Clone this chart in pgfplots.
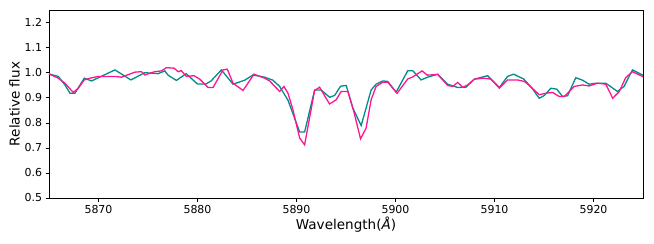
\documentclass[border=0pt]{standalone}
\usepackage{pgfplots}
\pgfplotsset{compat=1.18}
\usepackage{fontspec}
\setmainfont{DejaVu Sans}
\usetikzlibrary{calc}
\definecolor{tealc}{RGB}{0,140,140}
\definecolor{pinkc}{RGB}{255,20,147}
\begin{document}
\begin{tikzpicture}
\begin{axis}[
  scale only axis,
  width=594bp, height=188bp,
  xmin=5865, xmax=5925, ymin=0.5, ymax=1.25,
  xtick={5870,5880,5890,5900,5910,5920},
  ytick={0.5,0.6,0.7,0.8,0.9,1.0,1.1,1.2},
  yticklabel style={/pgf/number format/.cd,fixed,fixed zerofill,precision=1},
  xticklabel style={/pgf/number format/.cd,1000 sep={}},
  /pgf/number format/assume math mode=true,
  tick align=outside, tick pos=left,
  major tick length=3.5bp,
  every tick/.style={black, line width=0.6bp},
  axis line style={line width=0.6bp},
  ticklabel style={font=\fontsize{11}{13}\selectfont},
  label style={font=\fontsize{13.6}{15}\selectfont},
  xlabel={Wavelength({\itshape Å})},
  ylabel={Relative flux},
  xlabel style={yshift=3bp},
  ylabel style={yshift=-2bp},
]
\coordinate (ll) at (rel axis cs:0,0);
\coordinate (ur) at (rel axis cs:1,1);
\addplot[tealc, line width=1.3bp] coordinates {
(5865.00,0.995) (5865.94,0.985) (5866.61,0.951) (5867.12,0.918) (5867.62,0.918)
(5868.56,0.978) (5869.30,0.967) (5871.66,1.011) (5873.27,0.971) (5874.68,1.000)
(5876.02,0.996) (5876.70,1.007) (5877.03,0.990) (5877.87,0.969) (5878.85,0.996)
(5879.99,0.955) (5880.86,0.955) (5881.37,0.967) (5882.41,1.011) (5883.59,0.954)
(5884.77,0.970) (5885.61,0.991) (5886.78,0.982) (5887.62,0.970) (5888.30,0.945)
(5889.14,0.890) (5890.32,0.763) (5890.82,0.763) (5891.83,0.931) (5892.49,0.931)
(5893.34,0.902) (5893.85,0.909) (5894.45,0.946) (5895.02,0.949) (5895.69,0.859)
(5896.53,0.789) (5897.54,0.931) (5898.04,0.954) (5898.72,0.967) (5899.22,0.965)
(5900.06,0.922) (5901.24,1.008) (5901.74,1.008) (5902.58,0.971) (5903.25,0.982)
(5904.26,0.994) (5905.27,0.954) (5906.28,0.941) (5907.12,0.942) (5907.96,0.974)
(5909.30,0.988) (5910.49,0.941) (5911.32,0.985) (5911.93,0.994) (5912.94,0.975)
(5913.75,0.940) (5914.52,0.898) (5915.03,0.909) (5915.69,0.938) (5916.30,0.934)
(5916.87,0.905) (5917.38,0.908) (5918.21,0.980) (5918.89,0.970) (5919.56,0.954)
(5920.23,0.958) (5921.24,0.958) (5922.42,0.925) (5923.09,0.945) (5923.93,1.011)
(5924.94,0.991) (5925.00,0.990)
};
\addplot[pinkc, line width=1.3bp] coordinates {
(5865.00,0.995) (5865.94,0.978) (5866.61,0.958) (5867.45,0.921) (5867.96,0.938)
(5868.56,0.971) (5869.14,0.978) (5869.97,0.985) (5871.66,0.985) (5872.32,0.982)
(5873.67,1.002) (5874.34,1.004) (5874.68,0.991) (5875.69,1.004) (5876.36,1.007)
(5876.86,1.020) (5877.64,1.018) (5878.04,1.004) (5878.37,1.008) (5878.88,0.985)
(5879.65,0.988) (5880.23,0.974) (5881.07,0.941) (5881.57,0.941) (5882.58,1.011)
(5883.01,1.014) (5883.59,0.958) (5884.60,0.929) (5885.71,0.994) (5886.78,0.978)
(5887.29,0.967) (5888.30,0.925) (5888.73,0.945) (5889.14,0.918) (5889.64,0.852)
(5890.32,0.739) (5890.82,0.712) (5891.83,0.929) (5892.33,0.942) (5893.34,0.875)
(5894.01,0.892) (5894.51,0.925) (5895.19,0.925) (5895.79,0.845) (5896.47,0.736)
(5897.03,0.779) (5897.54,0.892) (5898.04,0.945) (5898.72,0.962) (5899.22,0.962)
(5900.16,0.918) (5901.24,0.975) (5901.74,0.983) (5902.68,1.007) (5903.22,0.990)
(5904.26,0.993) (5905.27,0.949) (5905.78,0.945) (5906.28,0.961) (5906.79,0.942)
(5907.29,0.951) (5907.96,0.974) (5908.97,0.978) (5909.64,0.974) (5910.49,0.938)
(5911.32,0.971) (5912.33,0.971) (5913.01,0.965) (5913.34,0.955) (5914.52,0.912)
(5915.19,0.918) (5915.87,0.921) (5916.54,0.905) (5917.04,0.905) (5918.05,0.945)
(5918.89,0.951) (5919.56,0.947) (5920.40,0.958) (5921.24,0.954) (5921.94,0.898)
(5922.61,0.925) (5923.25,0.980) (5923.93,1.004) (5924.94,0.985) (5925.00,0.984)
};
\end{axis}
\pgfresetboundingbox
\path[use as bounding box] ($(ll)+(-49bp,-45bp)$) rectangle ($(ur)+(11bp,10bp)$);
\end{tikzpicture}
\end{document}
